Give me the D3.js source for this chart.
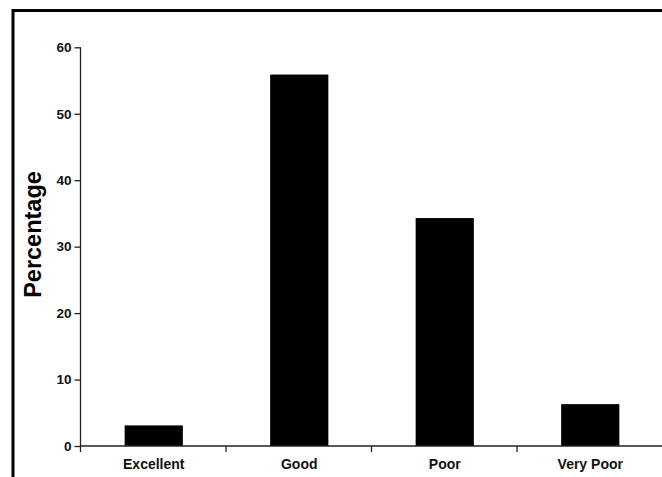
<!DOCTYPE html>
<html>
<head>
  <meta charset="UTF-8">
  <title>Percentage by rating</title>
  <script src="https://d3js.org/d3.v7.min.js"></script>
  <style>
    * { margin: 0; padding: 0; box-sizing: border-box; }
    body { background: #fff; font-family: "Liberation Sans", Arial, Helvetica, sans-serif; }
    svg { display: block; }
  </style>
</head>
<body>
  <div id="chart"></div>
  <script>
    const categories = ["Excellent", "Good", "Poor", "Very Poor"];
    const percentages = [3.1, 55.9, 34.3, 6.3];
    const yTicks = [0, 10, 20, 30, 40, 50, 60];

    const W = 662, H = 477;
    const x0 = 81, x1 = 663, yBase = 446, yTop = 47.3;

    const svg = d3.select("#chart").append("svg")
      .attr("width", W)
      .attr("height", H);

    svg.append("rect").attr("width", W).attr("height", H).attr("fill", "#fff");

    // frame (only top and left edges are inside the picture)
    svg.append("path")
      .attr("d", `M13,${H} L13,10.5 L${W},10.5`)
      .attr("fill", "none")
      .attr("stroke", "#000")
      .attr("stroke-width", 3);

    const x = d3.scaleBand()
      .domain(categories)
      .range([x0, x1])
      .paddingInner(0.6)
      .paddingOuter(0.3);

    const y = d3.scaleLinear()
      .domain([0, 60])
      .range([yBase, yTop]);

    // bars
    svg.selectAll(".bar")
      .data(categories)
      .enter()
      .append("rect")
      .attr("class", "bar")
      .attr("x", d => x(d))
      .attr("y", (d, i) => y(percentages[i]))
      .attr("width", x.bandwidth())
      .attr("height", (d, i) => y(0) - y(percentages[i]))
      .attr("fill", "#000");

    // y axis
    const gy = svg.append("g")
      .attr("transform", `translate(${x0 - 0.5},0)`)
      .call(d3.axisLeft(y).tickValues(yTicks).tickSize(6).tickPadding(3).tickSizeOuter(0));
    gy.select(".domain").remove();
    gy.selectAll("line").attr("stroke", "#222").attr("stroke-width", 1.3);
    gy.selectAll("text")
      .style("font-family", "'Liberation Sans', Arial, sans-serif")
      .style("font-weight", "bold")
      .style("font-size", "13.5px")
      .attr("fill", "#111");
    gy.append("line")
      .attr("x1", 0).attr("x2", 0)
      .attr("y1", y(60)).attr("y2", y(0) + 6)
      .attr("stroke", "#222").attr("stroke-width", 1.3);

    // x axis
    const gx = svg.append("g")
      .attr("transform", `translate(0,${yBase})`)
      .call(d3.axisBottom(x).tickSize(0).tickPadding(13));
    gx.select(".domain").remove();
    gx.selectAll("text")
      .style("font-family", "'Liberation Sans', Arial, sans-serif")
      .style("font-weight", "bold")
      .style("font-size", "14px")
      .attr("fill", "#111");
    gx.append("line")
      .attr("x1", x0 - 0.5).attr("x2", W)
      .attr("y1", 0).attr("y2", 0)
      .attr("stroke", "#222").attr("stroke-width", 1.3);
    // tick marks between categories
    gx.selectAll(".sep")
      .data(categories.slice(1))
      .enter()
      .append("line")
      .attr("class", "sep")
      .attr("x1", d => x(d) - x.step() * x.paddingInner() / 2 - 0.5)
      .attr("x2", d => x(d) - x.step() * x.paddingInner() / 2 - 0.5)
      .attr("y1", 0).attr("y2", 6)
      .attr("stroke", "#222").attr("stroke-width", 1.3);

    // y title
    svg.append("text")
      .attr("transform", `translate(40.5,234.5) rotate(-90)`)
      .attr("text-anchor", "middle")
      .style("font-family", "'Liberation Sans', Arial, sans-serif")
      .style("font-weight", "bold")
      .style("font-size", "23.5px")
      .attr("fill", "#000")
      .text("Percentage");
  </script>
</body>
</html>
